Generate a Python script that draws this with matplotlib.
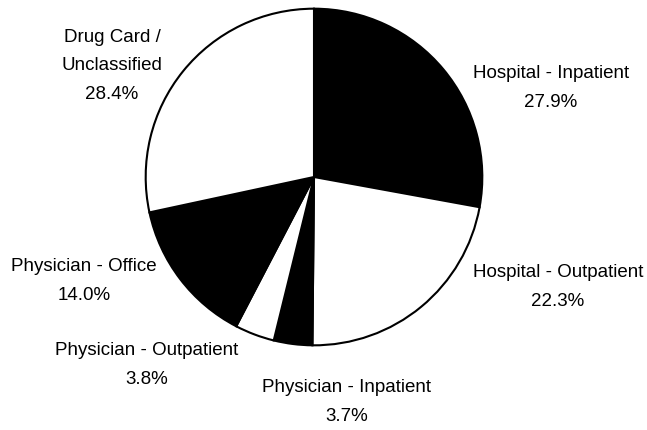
import matplotlib
matplotlib.use('Agg')
from matplotlib import pyplot as plt

labels = ['Hospital - Inpatient', 'Hospital - Outpatient', 'Physician - Inpatient',
          'Physician - Outpatient', 'Physician - Office', 'Drug Card /\nUnclassified']
shares = [27.9, 22.3, 3.7, 3.8, 14.0, 28.4]
fills = ['black', 'white', 'black', 'white', 'black', 'white']

# label centres in figure pixels (from top-left)
label_pos = [(551, 88), (558, 287), (347, 402), (147, 365), (84, 281), (112, 66)]

plt.rcParams['font.family'] = ['Liberation Sans', 'DejaVu Sans']

W, H = 647, 430
fig = plt.figure(figsize=(W / 100, H / 100), dpi=100)
cx, cy, r = 314, 177, 170
ax = fig.add_axes([(cx - r) / W, (H - cy - r) / H, 2 * r / W, 2 * r / H])
ax.pie(shares, colors=fills, startangle=90, counterclock=False,
       wedgeprops=dict(edgecolor='black', linewidth=1.5))
ax.set_xlim(-1.01, 1.01)
ax.set_ylim(-1.01, 1.01)
ax.axis('off')

for lab, val, (px, py) in zip(labels, shares, label_pos):
    fig.text(px / W, 1 - py / H, f'{lab}\n{val:.1f}%', ha='center', va='center',
             fontsize=13.5, linespacing=1.85)

fig.savefig('out.png', dpi=100)
